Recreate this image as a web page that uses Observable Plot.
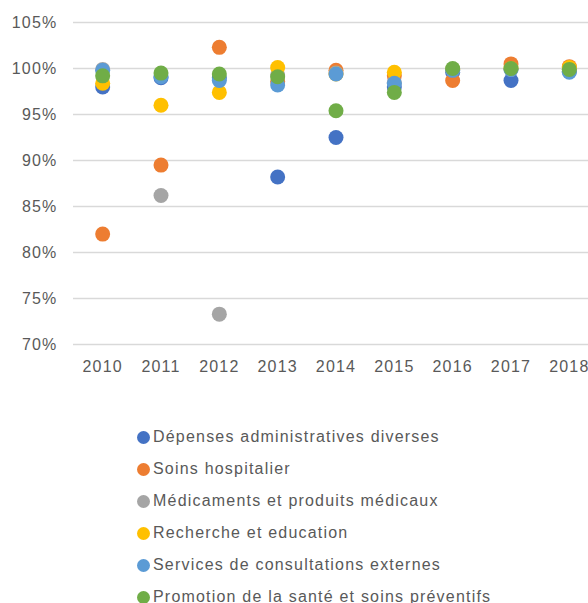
<!DOCTYPE html>
<html>
<head>
<meta charset="utf-8">
<script src="https://cdn.jsdelivr.net/npm/d3@7"></script>
<script src="https://cdn.jsdelivr.net/npm/@observablehq/plot@0.6"></script>
<style>
  html, body { margin: 0; padding: 0; background: #fff; }
  #wrap { width: 588px; height: 603px; position: relative; overflow: hidden; font-family: "Liberation Sans", Arial, sans-serif; }
  #legend { padding-top: 21px; }
  .row { height: 32px; display: flex; align-items: center; padding-left: 137px; color: #595959; font-size: 16px; letter-spacing: 1.2px; white-space: nowrap; }
  .sw { width: 13px; height: 13px; border-radius: 50%; margin-right: 3px; flex: none; }
</style>
</head>
<body>
<div id="wrap"><div id="chart"></div><div id="legend"></div></div>
<script>
const years = ["2010","2011","2012","2013","2014","2015","2016","2017","2018"];
const seriesNames = [
  "Dépenses administratives diverses",
  "Soins hospitalier",
  "Médicaments et produits médicaux",
  "Recherche et education",
  "Services de consultations externes",
  "Promotion de la santé et soins préventifs"
];
const colors = ["#4472C4", "#ED7D31", "#A5A5A5", "#FFC000", "#5B9BD5", "#70AD47"];
const depenses  = [98.0, 99.0, 99.0, 88.2, 92.5, 98.0, 99.6, 98.7, 99.7];
const soins     = [82.0, 89.5, 102.3, 98.6, 99.8, 99.2, 98.7, 100.5, 100.2];
const medic     = [99.9, 86.2, 73.3, 99.3, 99.5, 98.5, 99.9, 99.9, 99.9];
const recherche = [98.4, 96.0, 97.4, 100.1, 99.4, 99.6, 99.9, 100.0, 100.1];
const services  = [99.8, 99.1, 98.7, 98.2, 99.4, 98.4, 99.8, 99.9, 99.6];
const promotion = [99.2, 99.5, 99.4, 99.1, 95.4, 97.4, 100.0, 100.0, 99.9];
const yTicks = [0.70, 0.75, 0.80, 0.85, 0.90, 0.95, 1.00, 1.05];

const allSeries = [depenses, soins, medic, recherche, services, promotion];
const data = [];
allSeries.forEach((vals, si) => {
  vals.forEach((v, i) => data.push({ year: years[i], value: v / 100, series: seriesNames[si] }));
});

const chart = Plot.plot({
  width: 588,
  height: 400,
  marginLeft: 73,
  marginRight: -10,
  marginTop: 22,
  marginBottom: 56,
  style: { fontFamily: '"Liberation Sans", Arial, sans-serif', fontSize: "16px", color: "#595959", letterSpacing: "1.2px", background: "#fff" },
  x: { type: "point", domain: years, padding: 0.5, round: false, label: null, tickSize: 0, tickPadding: 16 },
  y: { domain: [0.70, 1.05], ticks: yTicks, tickFormat: d3.format(".0%"), label: null, tickSize: 0, tickPadding: 16 },
  color: { domain: seriesNames, range: colors },
  marks: [
    Plot.gridY(yTicks, { stroke: "#d9d9d9", strokeOpacity: 1, strokeWidth: 1.5 }),
    Plot.axisX({ tickSize: 0, tickPadding: 16, label: null }),
    Plot.axisY({ ticks: yTicks, tickFormat: d3.format(".0%"), tickSize: 0, tickPadding: 16, label: null }),
    Plot.dot(data, { x: "year", y: "value", fill: "series", r: 7.5, stroke: null })
  ]
});
document.getElementById("chart").appendChild(chart);

const legend = document.getElementById("legend");
seriesNames.forEach((name, i) => {
  const row = document.createElement("div");
  row.className = "row";
  const sw = document.createElement("span");
  sw.className = "sw";
  sw.style.background = colors[i];
  const t = document.createElement("span");
  t.textContent = name;
  row.appendChild(sw);
  row.appendChild(t);
  legend.appendChild(row);
});
</script>
</body>
</html>
